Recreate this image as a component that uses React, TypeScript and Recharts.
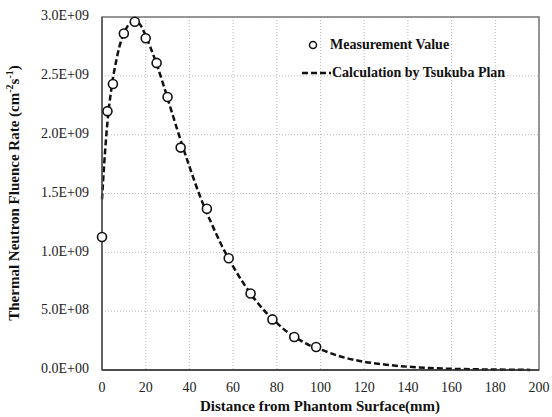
import React from "react";
import {
  ComposedChart,
  Line,
  Scatter,
  XAxis,
  YAxis,
  CartesianGrid,
  ReferenceArea,
} from "recharts";

// measured points (distance mm, fluence rate)
const measX = [0, 2.5, 5, 10, 15, 20, 25, 30, 36, 48, 58, 68, 78, 88, 98];
const measY = [
  1.13e9, 2.2e9, 2.43e9, 2.86e9, 2.96e9, 2.82e9, 2.61e9, 2.32e9, 1.89e9,
  1.37e9, 0.95e9, 0.65e9, 0.43e9, 0.28e9, 0.195e9,
];

// calculation curve
const calcX = [
  0, 1, 2, 3, 4, 5, 6, 8, 10, 12, 14, 15, 16, 18, 20, 22, 25, 28, 30, 35, 40,
  45, 50, 55, 60, 65, 70, 75, 80, 85, 90, 95, 100, 110, 120, 130, 140, 150,
  160, 170, 180, 190, 196,
];
const calcY = [
  1.45e9, 1.75e9, 2.0e9, 2.2e9, 2.35e9, 2.48e9, 2.58e9, 2.75e9, 2.86e9, 2.93e9,
  2.96e9, 2.965e9, 2.96e9, 2.92e9, 2.84e9, 2.75e9, 2.6e9, 2.43e9, 2.31e9,
  2.01e9, 1.73e9, 1.47e9, 1.25e9, 1.05e9, 0.88e9, 0.73e9, 0.6e9, 0.49e9,
  0.4e9, 0.32e9, 0.26e9, 0.21e9, 0.175e9, 0.11e9, 0.07e9, 0.045e9, 0.028e9,
  0.017e9, 0.01e9, 0.006e9, 0.004e9, 0.002e9, 0.001e9,
];

const xTicks = [0, 20, 40, 60, 80, 100, 120, 140, 160, 180, 200];
const yTicks = [0, 0.5e9, 1.0e9, 1.5e9, 2.0e9, 2.5e9, 3.0e9];

const measData = measX.map((x, i) => ({ x, y: measY[i] }));
const calcData = calcX.map((x, i) => ({ x, y: calcY[i] }));

const FONT = "'Liberation Serif', 'Times New Roman', 'DejaVu Serif', serif";

const sci = (v: number) => {
  if (v === 0) return "0.0E+00";
  const e = Math.floor(Math.log10(v) + 1e-9);
  const m = v / Math.pow(10, e);
  return `${m.toFixed(1)}E+${String(e).padStart(2, "0")}`;
};

const OpenCircle = (props: any) => (
  <circle
    cx={props.cx}
    cy={props.cy}
    r={4.5}
    fill="#fff"
    stroke="#111"
    strokeWidth={1.6}
  />
);

const XTick = (props: any) => (
  <text
    x={props.x}
    y={389}
    textAnchor="middle"
    dominantBaseline="middle"
    style={{ fontFamily: FONT, fontSize: 14 }}
    fill="#222"
  >
    {props.payload.value}
  </text>
);

const YTick = (props: any) => (
  <text
    x={89}
    y={props.y}
    textAnchor="end"
    dominantBaseline="middle"
    style={{ fontFamily: FONT, fontSize: 14 }}
    fill="#222"
  >
    {sci(props.payload.value)}
  </text>
);

const XTitle = () => (
  <text
    x={320}
    y={408}
    textAnchor="middle"
    dominantBaseline="middle"
    style={{ fontFamily: FONT, fontSize: 15, fontWeight: "bold" }}
    fill="#111"
  >
    Distance from Phantom Surface(mm)
  </text>
);

const YTitle = () => (
  <text
    x={16}
    y={193}
    transform="rotate(-90 16 193)"
    textAnchor="middle"
    dominantBaseline="middle"
    style={{ fontFamily: FONT, fontSize: 15, fontWeight: "bold" }}
    fill="#111"
  >
    Thermal Neutron Fluence Rate (cm
    <tspan fontSize={10} dy={-5}>-2</tspan>
    <tspan dy={5}>s</tspan>
    <tspan fontSize={10} dy={-5}>-1</tspan>
    <tspan dy={5}>)</tspan>
  </text>
);

const LegendBox = () => (
  <div
    style={{
      position: "absolute",
      left: 300,
      top: 31,
      fontFamily: FONT,
      fontWeight: "bold",
      fontSize: 14,
      color: "#111",
      lineHeight: "28px",
    }}
  >
    <div style={{ display: "flex", alignItems: "center", height: 28 }}>
      <svg width={30} height={14}>
        <circle cx={13} cy={7} r={3.5} fill="#fff" stroke="#111" strokeWidth={1.5} />
      </svg>
      <span>Measurement Value</span>
    </div>
    <div style={{ display: "flex", alignItems: "center", height: 28 }}>
      <svg width={31} height={14}>
        <line x1={2} y1={7} x2={31} y2={7} stroke="#111" strokeWidth={2.5} strokeDasharray="6 3" />
      </svg>
      <span style={{ marginLeft: 1 }}>Calculation by Tsukuba Plan</span>
    </div>
  </div>
);

export default function App() {
  return (
    <div style={{ position: "absolute", left: 0, top: 0, width: 552, height: 417, background: "#fff", fontFamily: FONT }}>
      <ComposedChart
        width={552}
        height={417}
        margin={{ top: 17, right: 13, left: 0, bottom: 0 }}
      >
        <CartesianGrid stroke="#bbb" strokeDasharray="1 2" />
        <XAxis
          type="number"
          dataKey="x"
          domain={[0, 200]}
          ticks={xTicks}
          height={47}
          tickLine={false}
          axisLine={{ stroke: "#333", strokeWidth: 1.5 }}
          tick={<XTick />}
          label={<XTitle />}
        />
        <YAxis
          type="number"
          dataKey="y"
          domain={[0, 3e9]}
          ticks={yTicks}
          width={102}
          tickLine={false}
          axisLine={{ stroke: "#555", strokeWidth: 1.5 }}
          tick={<YTick />}
          label={<YTitle />}
        />
        <ReferenceArea
          x1={0}
          x2={200}
          y1={0}
          y2={3e9}
          fill="none"
          stroke="#777"
          strokeWidth={1.5}
          ifOverflow="visible"
        />
        <Line
          data={calcData}
          dataKey="y"
          type="monotone"
          stroke="#111"
          strokeWidth={2.5}
          strokeDasharray="6 3"
          dot={false}
          isAnimationActive={false}
          legendType="none"
        />
        <Scatter
          data={measData}
          dataKey="y"
          shape={<OpenCircle />}
          isAnimationActive={false}
          legendType="none"
        />
      </ComposedChart>
      <LegendBox />
    </div>
  );
}
